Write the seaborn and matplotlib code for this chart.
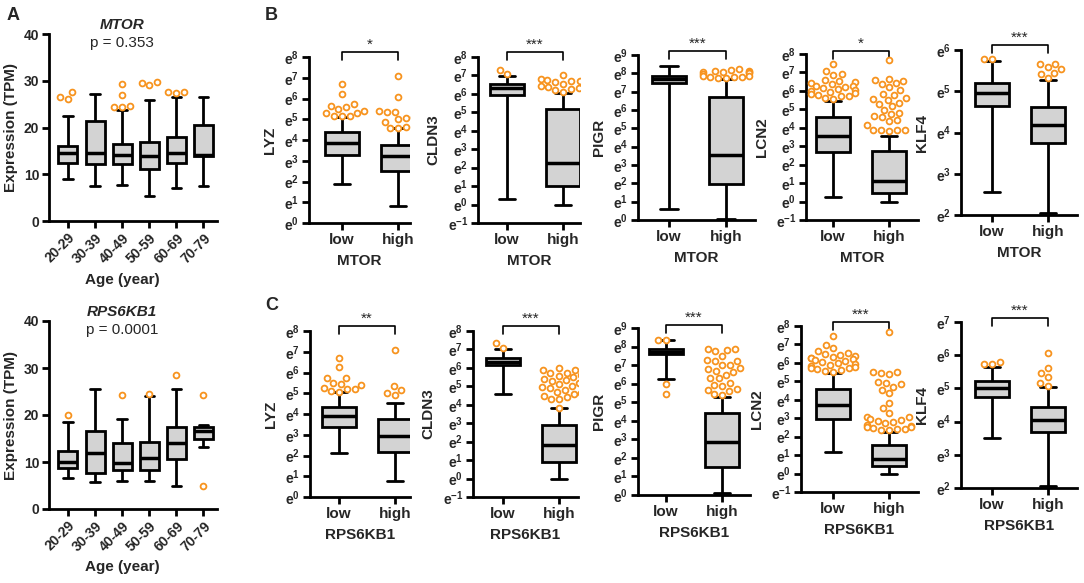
import numpy as np
import pandas as pd
import matplotlib
matplotlib.use("Agg")
import matplotlib.pyplot as plt
import matplotlib.transforms as mtransforms
import seaborn as sns

sns.set_theme(style="ticks")
plt.rcParams["font.family"] = ["Liberation Sans", "DejaVu Sans"]
plt.rcParams["font.weight"] = "bold"
plt.rcParams["axes.labelweight"] = "bold"
plt.rcParams["mathtext.fontset"] = "custom"
plt.rcParams["mathtext.rm"] = "Liberation Sans:bold"
plt.rcParams["mathtext.bf"] = "Liberation Sans:bold"
plt.rcParams["mathtext.it"] = "Liberation Sans:italic:bold"

# ── data (box = whisker-low, Q1, median, Q3, whisker-high) ────────────────────
AGE_GROUPS = ["20-29", "30-39", "40-49", "50-59", "60-69", "70-79"]

MTOR_LO  = [8.9, 7.5, 7.7, 5.4, 7.0, 7.5]
MTOR_Q1  = [12.5, 12.1, 12.1, 11.1, 12.4, 13.8]
MTOR_MED = [14.6, 14.5, 14.1, 13.8, 14.6, 14.1]
MTOR_Q3  = [16.1, 21.3, 16.5, 17.0, 17.9, 20.6]
MTOR_HI  = [22.4, 27.1, 23.8, 25.9, 26.6, 26.6]
MTOR_OUT = [[26.1, 27.5, 26.6], [], [29.3, 27.0, 24.5, 24.3, 24.4],
            [29.0, 29.7, 29.6], [27.4, 27.7, 27.5], []]

RPS_LO  = [6.5, 5.8, 6.0, 6.0, 4.9, 13.2]
RPS_Q1  = [8.8, 7.7, 8.4, 8.4, 10.6, 14.9]
RPS_MED = [10.1, 12.0, 9.7, 10.8, 14.1, 16.5]
RPS_Q3  = [12.4, 16.5, 14.0, 14.3, 17.5, 17.5]
RPS_HI  = [18.6, 25.5, 19.1, 24.0, 25.5, 17.9]
RPS_OUT = [[20.0], [], [24.2], [24.5], [28.6], [24.3, 4.9]]

GENES = ["LYZ", "CLDN3", "PIGR", "LCN2", "KLF4"]
LEVELS = ["low", "high"]

# B: split by MTOR (values in ln units)
B_LYZ_BOX = [[1.87, 3.26, 3.87, 4.37, 5.10], [0.81, 2.50, 3.23, 3.76, 4.60]]
B_LYZ_OUT = [[6.69, 6.23, 5.73, 5.64, 5.60, 5.48, 5.42, 5.32, 5.29, 5.18, 5.18, 5.15],
             [7.10, 6.05, 5.40, 5.37, 5.34, 5.13, 5.08, 5.00, 4.89, 4.62, 4.60, 4.60]]
B_CLDN3_BOX = [[0.29, 5.95, 6.30, 6.53, 6.99], [0.0, 1.02, 2.23, 5.19, 6.04]]
B_CLDN3_OUT = [[7.10, 7.31],
               [7.04, 6.81, 6.77, 6.72, 6.68, 6.62, 6.55, 6.45, 6.41, 6.36, 6.31, 6.25, 6.20, 6.12]]
B_PIGR_BOX = [[0.58, 7.45, 7.67, 7.87, 8.40], [0.05, 1.95, 3.55, 6.73, 7.68]]
B_PIGR_OUT = [[],
              [8.22, 8.18, 8.15, 8.12, 8.10, 8.08, 8.05, 8.02,
               7.95, 7.88, 7.85, 7.82, 7.80, 7.78, 7.75, 7.72]]
B_LCN2_BOX = [[0.23, 2.67, 3.57, 4.58, 5.43], [0.0, 0.49, 1.12, 2.76, 3.56]]
B_LCN2_OUT = [[7.46, 7.10, 6.93, 6.88, 6.61, 6.55, 6.48, 6.43, 6.40, 6.28, 6.25, 6.21,
               6.16, 6.12, 6.07, 6.02, 5.95, 5.88, 5.82, 5.79, 5.74, 5.70, 5.62, 5.56],
              [7.66, 6.64, 6.60, 6.55, 6.43, 6.40, 6.21, 6.07, 5.83, 5.78, 5.61, 5.55,
               5.52, 5.34, 5.30, 5.16, 4.98, 4.80, 4.75, 4.62, 4.58, 4.40, 4.35, 4.16,
               3.89, 3.88, 3.87, 3.86, 3.85]]
B_KLF4_BOX = [[2.55, 4.64, 4.95, 5.21, 5.73], [2.06, 3.75, 4.18, 4.63, 5.27]]
B_KLF4_OUT = [[5.78, 5.78], [5.67, 5.65, 5.60, 5.53, 5.45, 5.42, 5.32]]
B_SIG = ["*", "***", "***", "*", "***"]

# C: split by RPS6KB1
C_LYZ_BOX = [[2.14, 3.35, 3.90, 4.32, 5.04], [0.77, 2.17, 2.95, 3.74, 4.54]]
C_LYZ_OUT = [[6.68, 6.25, 5.72, 5.72, 5.48, 5.43, 5.39, 5.27, 5.19, 5.19, 5.12, 5.07],
             [7.09, 5.35, 5.15, 5.02, 4.90]]
C_CLDN3_BOX = [[4.56, 6.15, 6.34, 6.52, 7.00], [0.0, 0.90, 1.81, 2.90, 3.80]]
C_CLDN3_OUT = [[7.10, 7.33],
               [6.00, 5.90, 5.88, 5.75, 5.70, 5.61, 5.58, 5.50, 5.40, 5.34, 5.30, 5.20, 5.10,
                5.00, 4.98, 4.90, 4.80, 4.70, 4.65, 4.60, 4.50, 4.40, 4.34, 4.30, 3.84]]
C_PIGR_BOX = [[6.24, 7.60, 7.73, 7.88, 8.33], [0.09, 1.53, 2.88, 4.41, 5.27]]
C_PIGR_OUT = [[8.33, 8.33, 6.00, 5.45],
              [7.87, 7.85, 7.80, 7.74, 7.50, 7.29, 7.24, 7.20, 7.02, 7.00, 6.84, 6.80, 6.66,
               6.62, 6.48, 6.30, 6.28, 6.03, 5.94, 5.90, 5.71, 5.67, 5.60, 5.42, 5.40]]
C_LCN2_BOX = [[1.16, 2.95, 3.72, 4.59, 5.44], [0.0, 0.39, 0.78, 1.56, 2.28]]
C_LCN2_OUT = [[7.46, 6.95, 6.80, 6.62, 6.55, 6.50, 6.45, 6.40, 6.33, 6.28, 6.25, 6.20, 6.15,
               6.10, 6.05, 6.00, 5.95, 5.90, 5.85, 5.80, 5.75, 5.70, 5.65, 5.60, 5.55, 5.52],
              [7.66, 5.53, 5.50, 5.43, 5.40, 4.95, 4.90, 4.85, 4.71, 4.53, 4.36, 3.81, 3.54,
               3.27, 3.09, 3.05, 2.95, 2.91, 2.85, 2.78, 2.73, 2.65, 2.60, 2.55, 2.50, 2.45,
               2.41, 2.40, 2.38, 2.36]]
C_KLF4_BOX = [[3.52, 4.73, 5.02, 5.22, 5.65], [2.05, 3.68, 4.05, 4.43, 5.05]]
C_KLF4_OUT = [[5.73, 5.80, 5.75], [6.07, 5.62, 5.45, 5.33, 5.15, 5.08]]
C_SIG = ["**", "***", "***", "***", "***"]

B_YLIM = [(0, 8), (-1, 8), (0, 9), (-1, 8), (2, 6)]
C_YLIM = [(0, 8), (-1, 8), (0, 9), (-1, 8), (2, 7)]

# ── layout (pixel positions in the 1084x583 canvas) ──────────────────────────
W, H = 1084, 583
GREY, ORANGE = "#d3d3d3", "#F7931E"
# left spine, low x, high x, right end, top, bottom, bracket y
B_POS = [(309, 342, 398, 410, 57, 223, 52), (478, 507, 563, 580, 57, 223, 52),
         (638, 669, 726, 755, 55, 220, 51), (806, 833, 889, 918, 54, 220, 51),
         (961, 992, 1048, 1077, 50, 215, 45)]
C_POS = [(310, 339, 395, 410, 331, 497, 326), (473, 503, 559, 578, 331, 497, 326),
         (638, 666, 722, 750, 328, 495, 325), (801, 833, 889, 918, 326, 492, 322),
         (961, 992, 1048, 1077, 322, 488, 318)]

fig = plt.figure(figsize=(W / 100, H / 100), dpi=100)


def rect(l, r, t, b):
    return [l / W, 1 - b / H, (r - l) / W, (b - t) / H]


def style(ax):
    sns.despine(ax=ax)
    for s in ("left", "bottom"):
        ax.spines[s].set_linewidth(2)
        ax.spines[s].set_color("black")
    ax.tick_params(direction="out", length=5, width=2, color="black",
                   labelsize=10, pad=2)


def draw_boxes(ax, cats, stats, outs, width):
    df = pd.DataFrame({"grp": np.repeat(cats, 5), "val": np.concatenate(stats)})
    sns.boxplot(data=df, x="grp", y="val", order=cats, whis=(0, 100), width=width,
                color=GREY, saturation=1, linecolor="black", linewidth=2,
                showfliers=False, medianprops={"linewidth": 2.5}, ax=ax)
    og = [c for c, o in zip(cats, outs) for _ in o]
    ov = [v for o in outs for v in o]
    sns.swarmplot(x=og, y=ov, order=cats, color="white", edgecolor=ORANGE,
                  linewidth=1.3, size=4.2, zorder=7, ax=ax)


# ── A: expression by age ─────────────────────────────────────────────────────
a_specs = [
    ("MTOR", "p = 0.353", (MTOR_LO, MTOR_Q1, MTOR_MED, MTOR_Q3, MTOR_HI), MTOR_OUT,
     34, 221, 25, 43, 280),
    ("RPS6KB1", "p = 0.0001", (RPS_LO, RPS_Q1, RPS_MED, RPS_Q3, RPS_HI), RPS_OUT,
     321, 509, 312, 330, 567),
]
for gene, ptxt, cols, outs, top, bot, ty, py, ly in a_specs:
    ax = fig.add_axes(rect(49, 217, top, bot))
    stats = [list(s) for s in zip(*cols)]
    draw_boxes(ax, AGE_GROUPS, stats, outs, 0.7)
    ax.set_ylim(0, 40)
    ax.set_yticks([0, 10, 20, 30, 40])
    ax.set_xlim(-0.7, 5.5)
    style(ax)
    ax.set_xticks(range(len(AGE_GROUPS)))
    ax.set_xticklabels(AGE_GROUPS, rotation=45, ha="right", rotation_mode="anchor")
    ax.set_xlabel("")
    ax.set_ylabel("Expression (TPM)", fontsize=11, labelpad=4)
    fig.text(122 / W, 1 - ty / H, gene, style="italic", fontsize=11, ha="center", va="center")
    fig.text(122 / W, 1 - py / H, ptxt, fontweight="normal", fontsize=11, ha="center", va="center")
    fig.text(122 / W, 1 - ly / H, "Age (year)", fontsize=11, ha="center", va="center")

# ── B / C: low vs high groups ─────────────────────────────────────────────────
rows = [
    ("MTOR", B_POS, B_YLIM, B_SIG,
     [B_LYZ_BOX, B_CLDN3_BOX, B_PIGR_BOX, B_LCN2_BOX, B_KLF4_BOX],
     [B_LYZ_OUT, B_CLDN3_OUT, B_PIGR_OUT, B_LCN2_OUT, B_KLF4_OUT]),
    ("RPS6KB1", C_POS, C_YLIM, C_SIG,
     [C_LYZ_BOX, C_CLDN3_BOX, C_PIGR_BOX, C_LCN2_BOX, C_KLF4_BOX],
     [C_LYZ_OUT, C_CLDN3_OUT, C_PIGR_OUT, C_LCN2_OUT, C_KLF4_OUT]),
]
for split, positions, ylims, sigs, boxes, outs in rows:
    for gene, pos, ylim, sig, box, out in zip(GENES, positions, ylims, sigs, boxes, outs):
        left, xlo, xhi, right, top, bot, bry = pos
        ax = fig.add_axes(rect(left, right, top, bot))
        draw_boxes(ax, LEVELS, box, out, 0.6)
        unit = xhi - xlo
        ax.set_xlim((left - xlo) / unit, 1 + (right - xhi) / unit)
        ax.set_ylim(*ylim)
        ticks = list(range(ylim[0], ylim[1] + 1))
        ax.set_yticks(ticks)
        ax.set_yticklabels([rf"$\mathrm{{e}}^{{{k}}}$" for k in ticks])
        style(ax)
        ax.tick_params(axis="x", labelsize=11)
        ax.set_ylabel(gene, fontsize=11, labelpad=5)
        ax.set_xlabel(split, fontsize=11, labelpad=5)
        tr = mtransforms.blended_transform_factory(ax.transData, fig.transFigure)
        y0, y1 = 1 - bry / H, 1 - (bry + 8) / H
        ax.plot([0, 0, 1, 1], [y1, y0, y0, y1], transform=tr, color="black",
                lw=1.2, clip_on=False)
        ax.text(0.5, 1 - (bry - 3) / H, sig, transform=tr, ha="center",
                va="baseline", fontsize=11, fontweight="normal")

# panel letters
for letter, x, y in [("A", 7, 15), ("B", 265, 15), ("C", 265, 305)]:
    fig.text(x / W, 1 - y / H, letter, fontsize=13, ha="left", va="center")

fig.savefig("out.png", dpi=100)
